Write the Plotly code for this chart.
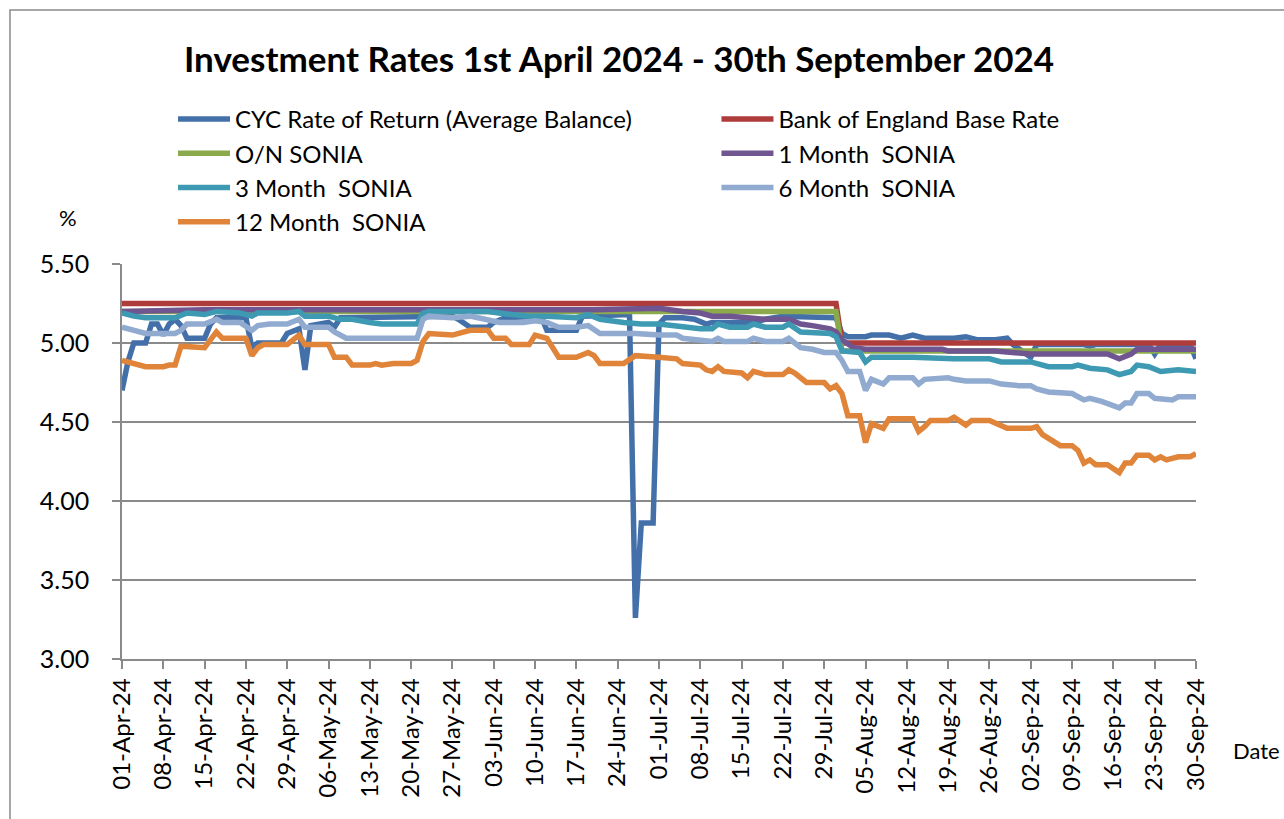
import plotly.graph_objects as go

# ---------------- data ----------------
cyc_dates = ["2024-04-01","2024-04-02","2024-04-03","2024-04-05","2024-04-06","2024-04-07","2024-04-08","2024-04-09",
             "2024-04-10","2024-04-11","2024-04-12","2024-04-15","2024-04-16","2024-04-17","2024-04-22","2024-04-23",
             "2024-04-24","2024-04-28","2024-04-29","2024-05-01","2024-05-02","2024-05-03","2024-05-06","2024-05-07",
             "2024-05-08","2024-05-27","2024-05-28","2024-05-30","2024-06-02","2024-06-03","2024-06-05","2024-06-11",
             "2024-06-12","2024-06-17","2024-06-18","2024-06-26","2024-06-27","2024-06-28","2024-06-30","2024-07-01",
             "2024-07-02","2024-07-05","2024-07-07","2024-07-09","2024-07-10","2024-07-17","2024-07-19","2024-07-22",
             "2024-07-31","2024-08-01","2024-08-02","2024-08-05","2024-08-06","2024-08-09","2024-08-11","2024-08-13",
             "2024-08-15","2024-08-20","2024-08-22","2024-08-24","2024-08-27","2024-08-29","2024-08-30","2024-09-02",
             "2024-09-03","2024-09-11","2024-09-12","2024-09-13","2024-09-22","2024-09-23","2024-09-24","2024-09-29",
             "2024-09-30"]
cyc_values = [4.70, 4.88, 5.00, 5.00, 5.12, 5.12, 5.05, 5.12,
              5.15, 5.11, 5.03, 5.03, 5.12, 5.16, 5.16, 4.97,
              5.00, 5.00, 5.06, 5.09, 4.83, 5.11, 5.13, 5.10,
              5.16, 5.17, 5.15, 5.10, 5.10, 5.13, 5.16, 5.17,
              5.08, 5.08, 5.17, 5.18, 3.26, 3.86, 3.86, 5.12,
              5.16, 5.16, 5.15, 5.12, 5.13, 5.13, 5.15, 5.17,
              5.16, 5.06, 5.04, 5.04, 5.05, 5.05, 5.03, 5.05,
              5.03, 5.03, 5.04, 5.02, 5.02, 5.03, 4.99, 4.91,
              4.99, 4.99, 4.98, 4.99, 4.99, 4.93, 4.99, 4.99,
              4.90]

boe_dates = ["2024-04-01", "2024-07-31", "2024-08-01", "2024-09-30"]
boe_values = [5.25, 5.25, 5.00, 5.00]

on_dates = ["2024-04-01", "2024-07-31", "2024-08-01", "2024-09-30"]
on_values = [5.20, 5.20, 4.95, 4.95]

m1_dates = ["2024-04-01","2024-04-15","2024-06-20","2024-06-28","2024-07-01","2024-07-05","2024-07-08","2024-07-10",
            "2024-07-13","2024-07-16","2024-07-19","2024-07-23","2024-07-25","2024-07-27","2024-07-30","2024-07-31",
            "2024-08-01","2024-08-03","2024-08-05","2024-08-18","2024-08-19","2024-08-27","2024-09-02","2024-09-15",
            "2024-09-17","2024-09-19","2024-09-20","2024-09-30"]
m1_values = [5.20, 5.21, 5.21, 5.22, 5.22, 5.20, 5.19, 5.17,
             5.17, 5.16, 5.15, 5.15, 5.12, 5.11, 5.09, 5.07,
             5.02, 4.97, 4.96, 4.96, 4.95, 4.95, 4.93, 4.93,
             4.90, 4.93, 4.96, 4.96]

m3_dates = ["2024-04-01","2024-04-03","2024-04-05","2024-04-10","2024-04-12","2024-04-15","2024-04-17","2024-04-21",
            "2024-04-23","2024-04-24","2024-04-29","2024-05-01","2024-05-02","2024-05-06","2024-05-08","2024-05-10",
            "2024-05-13","2024-05-15","2024-05-21","2024-05-22","2024-05-23","2024-06-02","2024-06-06","2024-06-09",
            "2024-06-12","2024-06-15","2024-06-17","2024-06-19","2024-06-21","2024-06-25","2024-06-28","2024-07-01",
            "2024-07-05","2024-07-08","2024-07-10","2024-07-11","2024-07-13","2024-07-16","2024-07-17","2024-07-19",
            "2024-07-22","2024-07-23","2024-07-25","2024-07-28","2024-07-30","2024-07-31","2024-08-01","2024-08-04",
            "2024-08-05","2024-08-06","2024-08-13","2024-08-20","2024-08-26","2024-08-28","2024-09-02","2024-09-05",
            "2024-09-09","2024-09-10","2024-09-12","2024-09-15","2024-09-17","2024-09-19","2024-09-20","2024-09-22",
            "2024-09-24","2024-09-27","2024-09-30"]
m3_values = [5.19, 5.17, 5.16, 5.16, 5.19, 5.18, 5.20, 5.19,
             5.17, 5.19, 5.19, 5.20, 5.17, 5.17, 5.15, 5.15,
             5.13, 5.12, 5.12, 5.19, 5.20, 5.20, 5.18, 5.17,
             5.17, 5.16, 5.16, 5.18, 5.15, 5.13, 5.12, 5.12,
             5.10, 5.09, 5.09, 5.12, 5.10, 5.10, 5.12, 5.10,
             5.10, 5.12, 5.07, 5.06, 5.06, 5.04, 4.95, 4.94,
             4.88, 4.91, 4.91, 4.90, 4.90, 4.88, 4.88, 4.85,
             4.85, 4.86, 4.84, 4.83, 4.80, 4.82, 4.86, 4.85,
             4.82, 4.83, 4.82]

m6_dates = ["2024-04-01","2024-04-03","2024-04-05","2024-04-10","2024-04-11","2024-04-12","2024-04-15","2024-04-17",
            "2024-04-18","2024-04-21","2024-04-23","2024-04-24","2024-04-26","2024-04-29","2024-05-01","2024-05-02",
            "2024-05-06","2024-05-07","2024-05-09","2024-05-21","2024-05-22","2024-05-23","2024-05-27","2024-05-30",
            "2024-06-02","2024-06-04","2024-06-08","2024-06-10","2024-06-12","2024-06-14","2024-06-17","2024-06-19",
            "2024-06-21","2024-06-27","2024-07-01","2024-07-04","2024-07-05","2024-07-08","2024-07-10","2024-07-11",
            "2024-07-12","2024-07-16","2024-07-17","2024-07-19","2024-07-22","2024-07-23","2024-07-25","2024-07-27",
            "2024-07-29","2024-07-31","2024-08-01","2024-08-02","2024-08-04","2024-08-05","2024-08-06","2024-08-08",
            "2024-08-09","2024-08-13","2024-08-14","2024-08-15","2024-08-19","2024-08-20","2024-08-22","2024-08-26",
            "2024-08-28","2024-08-31","2024-09-02","2024-09-03","2024-09-05","2024-09-09","2024-09-11","2024-09-12",
            "2024-09-14","2024-09-17","2024-09-18","2024-09-19","2024-09-20","2024-09-22","2024-09-23","2024-09-26",
            "2024-09-27","2024-09-30"]
m6_values = [5.10, 5.08, 5.06, 5.06, 5.08, 5.12, 5.12, 5.15,
             5.13, 5.13, 5.08, 5.11, 5.12, 5.12, 5.15, 5.10,
             5.10, 5.07, 5.03, 5.03, 5.15, 5.17, 5.16, 5.17,
             5.15, 5.13, 5.13, 5.14, 5.13, 5.10, 5.10, 5.11,
             5.06, 5.06, 5.05, 5.05, 5.03, 5.02, 5.01, 5.03,
             5.01, 5.01, 5.03, 5.01, 5.01, 5.03, 4.97, 4.96,
             4.94, 4.94, 4.89, 4.82, 4.82, 4.70, 4.77, 4.74,
             4.78, 4.78, 4.74, 4.77, 4.78, 4.77, 4.76, 4.76,
             4.74, 4.73, 4.73, 4.71, 4.69, 4.68, 4.64, 4.65,
             4.63, 4.59, 4.62, 4.62, 4.68, 4.68, 4.65, 4.64,
             4.66, 4.66]

m12_dates = ["2024-04-01","2024-04-03","2024-04-05","2024-04-08","2024-04-09","2024-04-10","2024-04-11","2024-04-15",
             "2024-04-17","2024-04-18","2024-04-22","2024-04-23","2024-04-24","2024-04-25","2024-04-29","2024-05-01",
             "2024-05-02","2024-05-06","2024-05-07","2024-05-09","2024-05-10","2024-05-13","2024-05-14","2024-05-15",
             "2024-05-17","2024-05-20","2024-05-21","2024-05-22","2024-05-23","2024-05-27","2024-05-30","2024-06-02",
             "2024-06-03","2024-06-05","2024-06-06","2024-06-09","2024-06-10","2024-06-12","2024-06-14","2024-06-17",
             "2024-06-19","2024-06-20","2024-06-21","2024-06-25","2024-06-27","2024-07-01","2024-07-04","2024-07-05",
             "2024-07-08","2024-07-09","2024-07-10","2024-07-11","2024-07-12","2024-07-15","2024-07-16","2024-07-17",
             "2024-07-19","2024-07-22","2024-07-23","2024-07-24","2024-07-26","2024-07-29","2024-07-30","2024-07-31",
             "2024-08-01","2024-08-02","2024-08-04","2024-08-05","2024-08-06","2024-08-08","2024-08-09","2024-08-13",
             "2024-08-14","2024-08-15","2024-08-16","2024-08-19","2024-08-20","2024-08-22","2024-08-23","2024-08-26",
             "2024-08-29","2024-09-02","2024-09-03","2024-09-04","2024-09-07","2024-09-09","2024-09-10","2024-09-11",
             "2024-09-12","2024-09-13","2024-09-15","2024-09-17","2024-09-18","2024-09-19","2024-09-20","2024-09-22",
             "2024-09-23","2024-09-24","2024-09-25","2024-09-27","2024-09-29","2024-09-30"]
m12_values = [4.89, 4.87, 4.85, 4.85, 4.86, 4.86, 4.98, 4.97,
              5.07, 5.03, 5.03, 4.92, 4.97, 4.99, 4.99, 5.05,
              4.99, 4.99, 4.91, 4.91, 4.86, 4.86, 4.87, 4.86,
              4.87, 4.87, 4.89, 5.01, 5.06, 5.05, 5.08, 5.08,
              5.03, 5.03, 4.99, 4.99, 5.05, 5.03, 4.91, 4.91,
              4.94, 4.92, 4.87, 4.87, 4.92, 4.91, 4.90, 4.87,
              4.86, 4.83, 4.82, 4.85, 4.82, 4.81, 4.78, 4.82,
              4.80, 4.80, 4.83, 4.81, 4.75, 4.75, 4.71, 4.73,
              4.68, 4.54, 4.54, 4.37, 4.49, 4.46, 4.52, 4.52,
              4.44, 4.47, 4.51, 4.51, 4.53, 4.48, 4.51, 4.51,
              4.46, 4.46, 4.47, 4.42, 4.35, 4.35, 4.32, 4.24,
              4.26, 4.23, 4.23, 4.18, 4.24, 4.24, 4.29, 4.29,
              4.26, 4.28, 4.26, 4.28, 4.28, 4.30]

series_names = ["CYC Rate of Return (Average Balance)", "Bank of England Base Rate", "O/N SONIA",
                "1 Month  SONIA", "3 Month  SONIA", "6 Month  SONIA", "12 Month  SONIA"]
series_colors = ["#4470AA", "#AE3C3B", "#8AAA4B", "#6F5690", "#3D9AB2", "#91AACF", "#E0843A"]
# legend column of each series (left column / right column, as in the original)
series_legend = ["legend", "legend2", "legend", "legend2", "legend", "legend2", "legend"]

tick_dates = ["2024-04-01","2024-04-08","2024-04-15","2024-04-22","2024-04-29","2024-05-06","2024-05-13",
              "2024-05-20","2024-05-27","2024-06-03","2024-06-10","2024-06-17","2024-06-24","2024-07-01",
              "2024-07-08","2024-07-15","2024-07-22","2024-07-29","2024-08-05","2024-08-12","2024-08-19",
              "2024-08-26","2024-09-02","2024-09-09","2024-09-16","2024-09-23","2024-09-30"]
y_ticks = [3.00, 3.50, 4.00, 4.50, 5.00, 5.50]

# ---------------- figure ----------------
all_dates = [cyc_dates, boe_dates, on_dates, m1_dates, m3_dates, m6_dates, m12_dates]
all_values = [cyc_values, boe_values, on_values, m1_values, m3_values, m6_values, m12_values]

FONT = "Lato, Carlito, Calibri, sans-serif"
GRID = "#8a8a8a"

fig = go.Figure()
for name, col, lg, xs, ys in zip(series_names, series_colors, series_legend, all_dates, all_values):
    fig.add_trace(go.Scatter(x=xs, y=ys, mode="lines", name=name, legend=lg,
                             line=dict(color=col, width=5.5)))

legend_common = dict(orientation="v", yanchor="top", xanchor="left", itemwidth=52,
                     font=dict(family=FONT, size=24, color="black"),
                     bgcolor="rgba(0,0,0,0)", traceorder="normal", tracegroupgap=0)

fig.update_layout(
    width=1284, height=819,
    margin=dict(l=122, r=88, t=264, b=160),
    paper_bgcolor="white", plot_bgcolor="white",
    font=dict(family=FONT, size=24, color="black"),
    showlegend=True,
    legend=dict(x=0.0475, y=1.4228, **legend_common),
    legend2=dict(x=0.5535, y=1.4228, **legend_common),
    xaxis=dict(range=["2024-04-01", "2024-09-30"], tickmode="array", tickvals=tick_dates,
               tickformat="%d-%b-%y", tickangle=-90, showgrid=False,
               showline=True, linecolor=GRID, linewidth=1.5,
               ticks="outside", ticklen=8, tickcolor=GRID, tickwidth=1.5,
               tickfont=dict(family=FONT, size=24, color="black")),
    yaxis=dict(range=[3.0, 5.5], tickmode="array", tickvals=y_ticks, tickformat=".2f",
               showgrid=True, gridcolor=GRID, gridwidth=1.5,
               showline=True, linecolor=GRID, linewidth=1.5,
               ticks="outside", ticklen=8, tickcolor=GRID, tickwidth=1.5,
               zeroline=False, ticklabelstandoff=18,
               tickfont=dict(family=FONT, size=25, color="black")),
)

fig.add_annotation(text="<b>Investment Rates 1st April 2024 - 30th September 2024</b>",
                   xref="paper", yref="paper", x=0.4628, y=1.522, xanchor="center", yanchor="middle",
                   showarrow=False, font=dict(family=FONT, size=35, color="black"))
fig.add_annotation(text="%", xref="paper", yref="paper", x=-0.0503, y=1.1165,
                   xanchor="center", yanchor="middle", showarrow=False,
                   font=dict(family=FONT, size=22, color="black"))
fig.add_annotation(text="Date", xref="paper", yref="paper", x=1.0559, y=-0.2304,
                   xanchor="center", yanchor="middle", showarrow=False,
                   font=dict(family=FONT, size=22, color="black"))

fig.add_shape(type="rect", xref="paper", yref="paper",
              x0=-0.1043, x1=1.12, y0=-0.5, y1=1.643,
              line=dict(color="#8a8a8a", width=1.5), fillcolor="rgba(0,0,0,0)", layer="below")

fig.write_html("out.html", config={"displayModeBar": False},
               post_script="document.body.style.margin='0';")
